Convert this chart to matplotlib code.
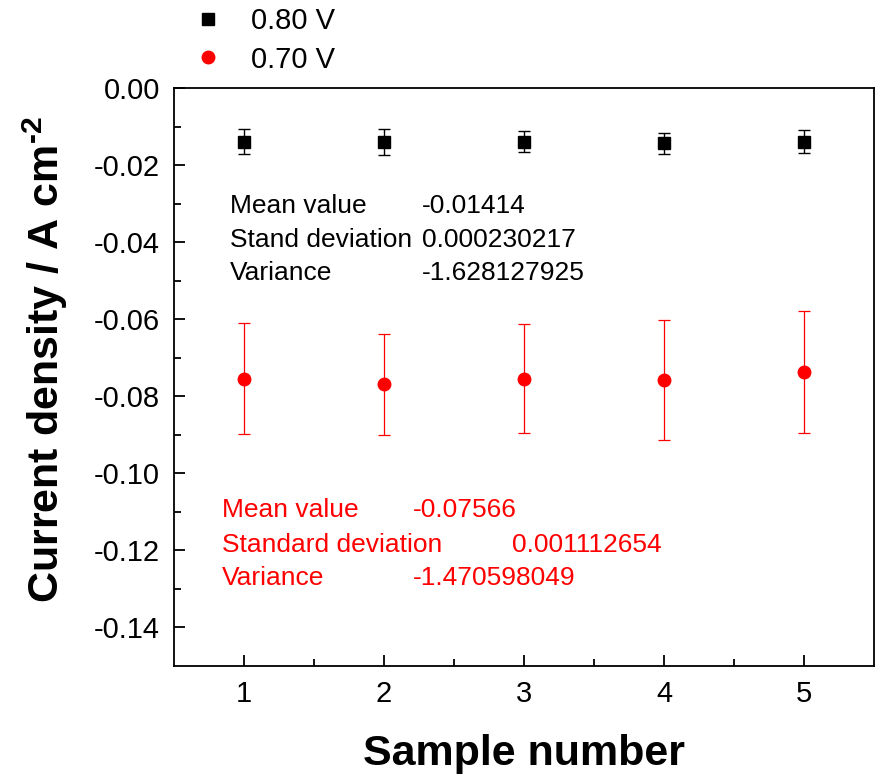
import matplotlib
matplotlib.use("Agg")
import matplotlib.pyplot as plt

plt.rcParams['font.family'] = ['Liberation Sans', 'DejaVu Sans']
plt.rcParams['mathtext.fontset'] = 'custom'
plt.rcParams['mathtext.rm'] = 'Liberation Sans:bold'
plt.rcParams['mathtext.bf'] = 'Liberation Sans:bold'
plt.rcParams['axes.unicode_minus'] = False

samples = [1, 2, 3, 4, 5]
v080_mean = [-0.0139, -0.0140, -0.0139, -0.0143, -0.0139]
v080_err = [0.0032, 0.0033, 0.0028, 0.0027, 0.0029]
v070_mean = [-0.0754, -0.0769, -0.0754, -0.0758, -0.0738]
v070_err = [0.0144, 0.0131, 0.0141, 0.0156, 0.0158]
labels = ["0.80 V", "0.70 V"]
stats_black = [("Mean value", "-0.01414"), ("Stand deviation", "0.000230217"), ("Variance", "-1.628127925")]
stats_red = [("Mean value", "-0.07566"), ("Standard deviation", "0.001112654"), ("Variance", "-1.470598049")]

fig = plt.figure(figsize=(8.81, 7.79), dpi=100)
ax = fig.add_axes([174/881, 113/779, 700/881, 578/779])

ax.errorbar(samples, v080_mean, yerr=v080_err, fmt='none', ecolor='black',
            elinewidth=1.0, capsize=4, capthick=1.0)
ax.errorbar(samples, v070_mean, yerr=v070_err, fmt='none', ecolor='red',
            elinewidth=0.9, capsize=4, capthick=0.9)
ax.plot(samples, v080_mean, 's', color='black', markersize=8, linestyle='none', label=labels[0])
ax.plot(samples, v070_mean, 'o', color='red', markersize=9, linestyle='none', label=labels[1])

ax.set_xlim(0.5, 5.5)
ax.set_ylim(-0.15, 0.0)
ax.set_xticks([1, 2, 3, 4, 5])
ax.set_xticks([1.5, 2.5, 3.5, 4.5], minor=True)
yt = [0.0, -0.02, -0.04, -0.06, -0.08, -0.10, -0.12, -0.14]
ax.set_yticks(yt)
ax.set_yticklabels([f"{v:.2f}" if v != 0 else "0.00" for v in yt])
ax.set_yticks([-0.01, -0.03, -0.05, -0.07, -0.09, -0.11, -0.13], minor=True)

ax.tick_params(axis='both', which='major', direction='in', length=8, width=1.3,
               labelsize=21, pad=10, top=False, right=False)
ax.tick_params(axis='both', which='minor', direction='in', length=5, width=1.3,
               top=False, right=False)
for s in ax.spines.values():
    s.set_linewidth(1.3)

ax.set_xlabel("Sample number", fontsize=31, fontweight='bold')
ax.set_ylabel(r"Current density / A cm$^{\text{-2}}$", fontsize=31, fontweight='bold')
ax.xaxis.set_label_coords(0.5, -0.117)
ax.yaxis.set_label_coords(-0.148, 0.53)

rows_b = [0.796, 0.737, 0.680]
for (lab, val), yy in zip(stats_black, rows_b):
    ax.text(0.08, yy, lab, transform=ax.transAxes, fontsize=19, va='center', color='black')
    ax.text(0.354, yy, val, transform=ax.transAxes, fontsize=19, va='center', color='black')

rows_r = [0.270, 0.209, 0.152]
val_x_r = [0.341, 0.483, 0.341]
for (lab, val), yy, vx in zip(stats_red, rows_r, val_x_r):
    ax.text(0.0686, yy, lab, transform=ax.transAxes, fontsize=19, va='center', color='red')
    ax.text(vx, yy, val, transform=ax.transAxes, fontsize=19, va='center', color='red')

fig.legend(loc='upper left', bbox_to_anchor=(173/881, 1 + 10/779), frameon=False,
           fontsize=21, handlelength=1.2, handletextpad=0.86, labelspacing=0.35,
           borderpad=0.1)

fig.savefig("out.png", dpi=100)
